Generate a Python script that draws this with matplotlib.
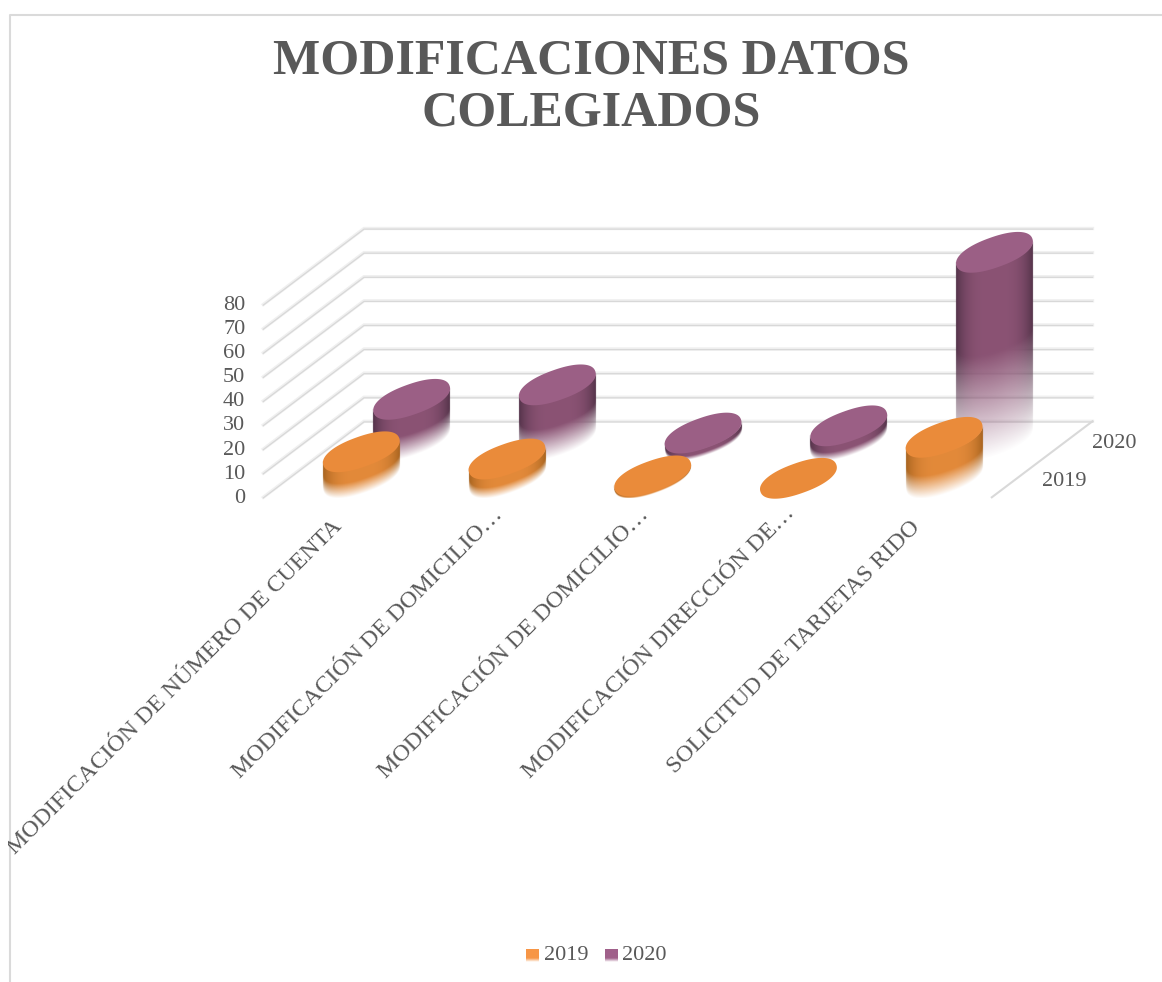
"""Modificaciones datos colegiados: 3D cylinder chart drawn on a flat pixel-scaled axes."""
import matplotlib

matplotlib.use("Agg")
import matplotlib.pyplot as plt
import numpy as np
from matplotlib.colors import to_rgb
from matplotlib.patches import Polygon, Rectangle

plt.rcParams["font.family"] = ["Liberation Serif", "DejaVu Serif"]

TITLE = "MODIFICACIONES DATOS\nCOLEGIADOS"
CATEGORIES = [
    "MODIFICACIÓN DE NÚMERO DE CUENTA",
    "MODIFICACIÓN DE DOMICILIO…",
    "MODIFICACIÓN DE DOMICILIO…",
    "MODIFICACIÓN DIRECCIÓN DE…",
    "SOLICITUD DE TARJETAS RIDO",
]
SERIES = ["2019", "2020"]
VALUES_2019 = [11, 8, 1, 0, 17]
VALUES_2020 = [17, 23, 3, 6, 78]
TICKS = [0, 10, 20, 30, 40, 50, 60, 70, 80]

# projection of the Excel 3D box, in pixels
X0, Y0 = 263.3, 497.3
CAT_STEP = 145.7
DEPTH_X, DEPTH_Y = 100.7, 76.0
PX_PER_UNIT = 2.41
RADIUS_A = 29.7
RADIUS_B = 0.25  # share of the depth vector
ROUNDNESS = 0.9  # <1 blunts the tips of the caps, along the ellipse's own axes
CAP_MAJOR = 0.98
CAP_MINOR = 1.1

LABEL_DX = [3, 18, 18, 18, -2]
LABEL_Y = [523, 512, 512, 510, 524]

TEXT = "#595959"
GRID_DARK = "#d8d8d8"
GRID_LIGHT = "#f0f0f0"


def project(cat, depth, value):
    x = X0 + cat * CAT_STEP + depth * DEPTH_X
    y = Y0 - depth * DEPTH_Y - value * PX_PER_UNIT
    return x, y


def cap_points(cx, cy):
    bx, by = RADIUS_B * DEPTH_X, RADIUS_B * DEPTH_Y
    u, sv, _ = np.linalg.svd(np.array([[RADIUS_A, bx], [0.0, -by]]))
    t = np.linspace(0, 2 * np.pi, 360, endpoint=False)
    c = np.sign(np.cos(t)) * np.abs(np.cos(t)) ** ROUNDNESS
    s = np.sign(np.sin(t)) * np.abs(np.sin(t)) ** ROUNDNESS
    unit = np.column_stack([sv[0] * CAP_MAJOR * c, sv[1] * CAP_MINOR * s])
    return unit @ u.T + [cx, cy]


def lower_arc(pts, xs):
    # bottom edge of the cap (largest y, y grows downwards), as y for each x
    left, right = pts[:, 0].argmin(), pts[:, 0].argmax()
    n = len(pts)
    chain_a = np.roll(pts, -left, axis=0)[: (right - left) % n + 1]
    chain_b = np.roll(pts, -right, axis=0)[: (left - right) % n + 1][::-1]
    chain = chain_a if chain_a[:, 1].mean() > chain_b[:, 1].mean() else chain_b
    return np.interp(xs, chain[:, 0], chain[:, 1])


def draw_cylinder(ax, cat, depth, value, top, mid, edge, z):
    by = RADIUS_B * DEPTH_Y
    cx, cy0 = project(cat + 0.5, depth, 0)
    _, cy1 = project(cat + 0.5, depth, value)
    h = cy0 - cy1
    pts = cap_points(cx, cy1)
    if h > 0:
        # side wall: dark at both edges, fading to white towards the floor
        x_min, x_max = pts[:, 0].min(), pts[:, 0].max()
        half = (x_max - x_min) / 2
        xs = np.arange(x_min - 1, x_max + 1, 0.25)
        ys = np.arange(cy1 - by - 1, cy0 + by + 1, 0.25)
        gx, gy = np.meshgrid(xs, ys)
        low = lower_arc(pts, gx.ravel()).reshape(gx.shape)
        v = (gy - low) / h
        inside = (gx >= x_min) & (gx <= x_max) & (gy >= low - 1) & (v <= 1)
        alpha = np.clip((1 - v) / 0.55, 0, 1) * inside
        shade = (np.abs(gx - cx) / half) ** 3.5
        rgb = np.array(to_rgb(mid))[None, None, :] * (1 - shade[..., None]) \
            + np.array(to_rgb(edge))[None, None, :] * shade[..., None]
        img = np.dstack([rgb, alpha])
        ax.imshow(img, extent=(xs[0], xs[-1], ys[-1], ys[0]), origin="upper",
                  aspect="auto", zorder=z, interpolation="antialiased")
    ax.add_patch(Polygon(pts, closed=True, fc=top, ec="none", zorder=z + 0.1))


def swatch(ax, x, y, size, color):
    alpha = np.clip((1 - np.linspace(0, 1, 40)) / 0.3, 0, 1)
    img = np.ones((40, 1, 4))
    img[..., :3] = to_rgb(color)
    img[:, 0, 3] = alpha
    ax.imshow(img, extent=(x, x + size, y + size, y), origin="upper", aspect="auto", zorder=5)


def main():
    fig = plt.figure(figsize=(11.62, 9.82), dpi=100)
    ax = fig.add_axes([0, 0, 1, 1])
    ax.axis("off")

    # chart frame, only left and top are inside the crop
    ax.plot([9.5, 9.5, 1162], [982, 14.5, 14.5], color="#dadada", lw=1.5, zorder=1)

    ax.text(591, 87.5, TITLE, ha="center", va="center", color=TEXT, fontsize=36,
            fontweight="bold", linespacing=1.19)

    # walls
    n_cat = len(CATEGORIES)
    for tick in TICKS:
        left = project(0, 0, tick)
        corner = project(0, 1, tick)
        right = project(n_cat, 1, tick)
        ax.plot([left[0], corner[0], right[0]], [left[1], corner[1], right[1]],
                color=GRID_LIGHT, lw=2.4, zorder=2, solid_joinstyle="miter")
        ax.plot([left[0], corner[0], right[0]], [left[1] + 0.6, corner[1] + 0.6, right[1] + 0.6],
                color=GRID_DARK, lw=0.9, zorder=2.1, solid_joinstyle="miter")
        ax.text(left[0] - 18, left[1] + 1, str(tick), ha="right", va="center",
                color=TEXT, fontsize=16)
    a, b = project(n_cat, 1, 0), project(n_cat, 0, 0)
    ax.plot([a[0], b[0]], [a[1], b[1]], color="#d9d9d9", lw=1.5, zorder=2)

    # series labels at the right floor edge
    for name, depth in zip(SERIES, (0.25, 0.75)):
        x, y = project(n_cat, depth, 0)
        ax.text(x + 25, y + 3.5, name, ha="left", va="center", color=TEXT, fontsize=16)

    # cylinders, back row first
    for cat, val in enumerate(VALUES_2020):
        draw_cylinder(ax, cat, 0.75, val, "#9b5f85", "#8b5374", "#54334a", 3 + cat * 0.2)
    for cat, val in enumerate(VALUES_2019):
        draw_cylinder(ax, cat, 0.25, val, "#ea8b3a", "#e38a3a", "#a8641f", 4 + cat * 0.2)

    # category labels, the longest one is cut by the frame
    clip = Rectangle((8, 0), 1154, 982, transform=ax.transData)
    for cat, name in enumerate(CATEGORIES):
        x, _ = project(cat + 0.5, 0, 0)
        t = ax.text(x + LABEL_DX[cat], LABEL_Y[cat], name, rotation=45, rotation_mode="anchor",
                    ha="right", va="center", color=TEXT, fontsize=17.2)
        t.set_clip_path(clip)
        t.set_clip_on(True)

    # legend
    swatch(ax, 526, 949, 13, "#f79646")
    ax.text(544, 956, SERIES[0], ha="left", va="center", color=TEXT, fontsize=16)
    swatch(ax, 605, 949, 13, "#a0608a")
    ax.text(622, 956, SERIES[1], ha="left", va="center", color=TEXT, fontsize=16)

    ax.set_xlim(0, 1162)
    ax.set_ylim(982, 0)
    fig.savefig("out.png", dpi=100, facecolor="white")


if __name__ == "__main__":
    main()
